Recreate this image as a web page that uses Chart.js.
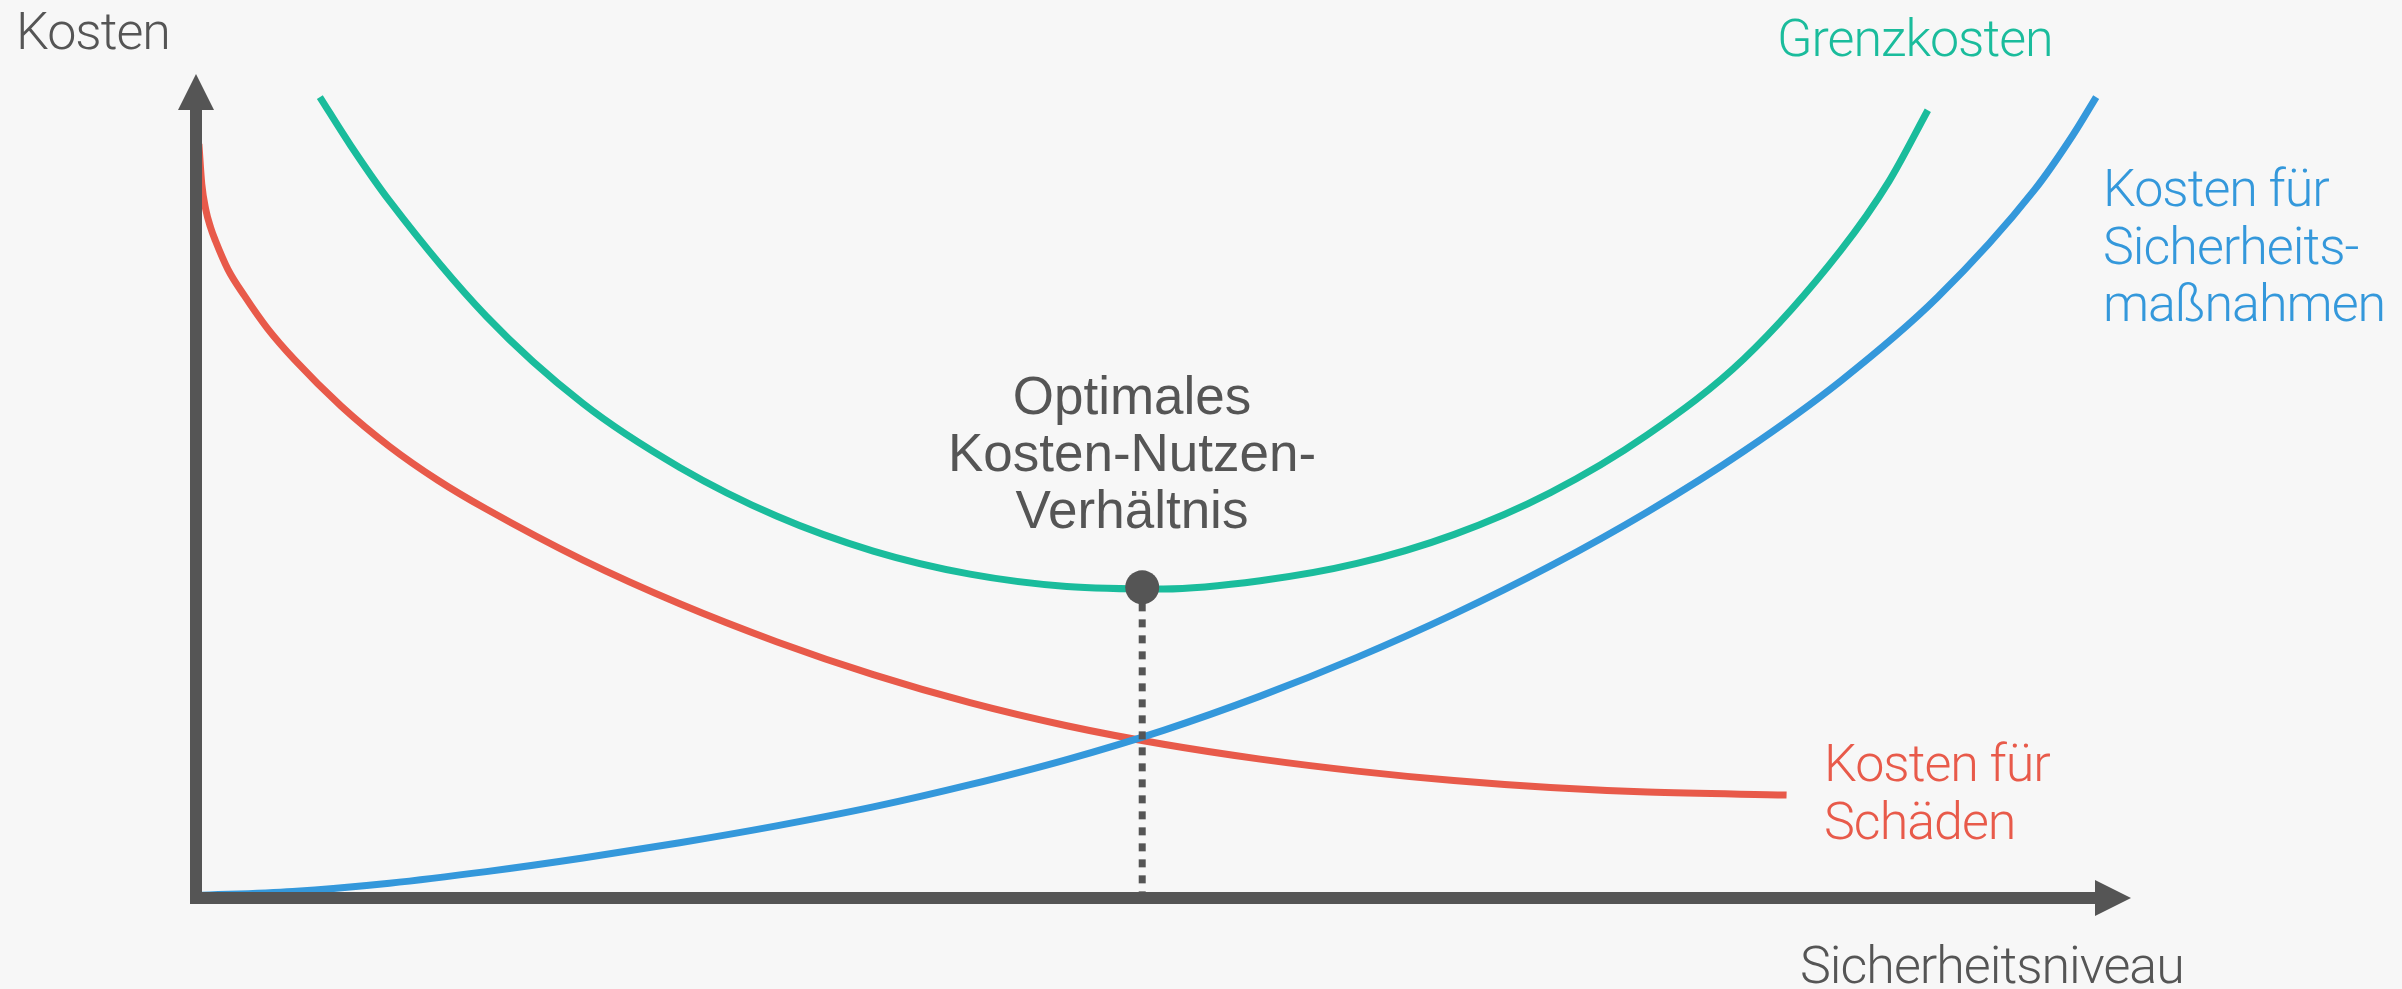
<!DOCTYPE html>
<html>
<head>
<meta charset="utf-8">
<title>Kosten-Nutzen-Verhältnis</title>
<script src="https://cdn.jsdelivr.net/npm/chart.js@4"></script>
<style>
  html, body { margin: 0; padding: 0; background: #f7f7f7; }
  #chart { display: block; }
</style>
</head>
<body>
<canvas id="chart" width="2402" height="989"></canvas>
<script>
// Sicherheitsniveau (x) and Kosten (y), both on a 0..100 scale
const grenzX = [6.4, 8, 10, 15, 20, 25, 30, 35, 40, 45, 50, 55, 60, 65, 70, 75, 80, 85, 87.5, 89.5];
const grenzY = [97.2, 91.3, 84.6, 70.6, 60.0, 52.25, 46.35, 42.1, 39.3, 37.8, 37.5, 38.5, 40.6, 44.1, 49.2, 56.2, 65.45, 78.6, 87.0, 95.6];

const massnahmenX = [0, 5, 10, 15, 20, 25, 30, 35, 40, 45, 50, 55, 60, 65, 70, 75, 80, 85, 90, 95, 97, 98.2];
const massnahmenY = [0.3, 0.8, 1.8, 3.2, 4.85, 6.7, 8.75, 11.05, 13.75, 16.8, 20.35, 24.5, 29.2, 34.45, 40.3, 46.85, 54.25, 62.75, 72.9, 85.9, 92.6, 97.2];

const schaedenX = [0.15, 0.3, 0.5, 0.75, 1, 1.65, 2.5, 3.7, 5.1, 7.5, 10, 12.5, 15, 20, 25, 30, 35, 40, 45, 50, 55, 60, 65, 70, 75, 82.2];
const schaedenY = [91.5, 86.6, 83.6, 81.4, 79.8, 76.3, 73.1, 69.1, 65.3, 59.7, 54.8, 50.7, 47.2, 41.0, 35.7, 31.1, 27.1, 23.7, 20.9, 18.65, 16.85, 15.4, 14.25, 13.4, 12.85, 12.5];

const optimumX = 48.9;
const optimumY = 37.7;

const axisColor = '#555555';
const green = '#1abc9c';
const blue = '#3498db';
const red = '#e85a4a';

function toPoints(xs, ys) {
  return xs.map((x, i) => ({ x: x, y: ys[i] }));
}

// axes with arrow heads and the text labels
const decorations = {
  id: 'decorations',
  afterDatasetsDraw(chart) {
    const ctx = chart.ctx;
    const xs = chart.scales.x;
    const ys = chart.scales.y;
    const x0 = xs.getPixelForValue(0);
    const xEnd = xs.getPixelForValue(100);
    const y0 = ys.getPixelForValue(0);
    const yEnd = ys.getPixelForValue(100);
    const bar = 12;
    const head = 36;
    const half = 18;

    ctx.save();
    ctx.fillStyle = axisColor;
    // y axis
    ctx.fillRect(x0 - bar / 2, yEnd + head - 1, bar, y0 + bar / 2 - (yEnd + head - 1));
    ctx.beginPath();
    ctx.moveTo(x0, yEnd);
    ctx.lineTo(x0 + half, yEnd + head);
    ctx.lineTo(x0 - half, yEnd + head);
    ctx.closePath();
    ctx.fill();
    // x axis
    ctx.fillRect(x0 - bar / 2, y0 - bar / 2, xEnd - head + 1 - (x0 - bar / 2), bar);
    ctx.beginPath();
    ctx.moveTo(xEnd, y0);
    ctx.lineTo(xEnd - head, y0 - half);
    ctx.lineTo(xEnd - head, y0 + half);
    ctx.closePath();
    ctx.fill();
    ctx.restore();
  },
  afterDraw(chart) {
    const ctx = chart.ctx;
    ctx.save();
    ctx.textBaseline = 'alphabetic';

    ctx.font = '300 52px Roboto, "Open Sans", sans-serif';
    ctx.letterSpacing = '-1px';
    ctx.textAlign = 'left';
    ctx.fillStyle = axisColor;
    ctx.fillText('Kosten', 16, 49);
    ctx.fillText('Sicherheitsniveau', 1800, 983);

    ctx.fillStyle = green;
    ctx.fillText('Grenzkosten', 1777, 56);

    ctx.fillStyle = blue;
    ctx.fillText('Kosten für', 2103, 206);
    ctx.fillText('Sicherheits-', 2103, 264);
    ctx.fillText('maßnahmen', 2103, 321);

    ctx.fillStyle = red;
    ctx.fillText('Kosten für', 1824, 781);
    ctx.fillText('Schäden', 1824, 839);

    ctx.font = '400 53px "Liberation Sans", Arial, sans-serif';
    ctx.letterSpacing = '0px';
    ctx.textAlign = 'center';
    ctx.fillStyle = axisColor;
    ctx.fillText('Optimales', 1132, 414);
    ctx.fillText('Kosten-Nutzen-', 1132, 471);
    ctx.fillText('Verhältnis', 1132, 528);
    ctx.restore();
  }
};

const ctx = document.getElementById('chart').getContext('2d');
const chart = new Chart(ctx, {
  type: 'scatter',
  data: {
    datasets: [
      {
        label: 'Optimum',
        data: [{ x: optimumX, y: optimumY }],
        pointRadius: 17,
        pointBackgroundColor: axisColor,
        pointBorderWidth: 0,
        showLine: false,
        order: 0
      },
      {
        label: 'Lot',
        data: [{ x: optimumX, y: optimumY }, { x: optimumX, y: 0 }],
        showLine: true,
        borderColor: axisColor,
        borderWidth: 7,
        borderDash: [8, 8],
        pointRadius: 0,
        order: 1
      },
      {
        label: 'Grenzkosten',
        data: toPoints(grenzX, grenzY),
        showLine: true,
        borderColor: green,
        borderWidth: 7,
        pointRadius: 0,
        cubicInterpolationMode: 'monotone',
        order: 2
      },
      {
        label: 'Kosten für Sicherheitsmaßnahmen',
        data: toPoints(massnahmenX, massnahmenY),
        showLine: true,
        borderColor: blue,
        borderWidth: 7,
        pointRadius: 0,
        cubicInterpolationMode: 'monotone',
        order: 3
      },
      {
        label: 'Kosten für Schäden',
        data: toPoints(schaedenX, schaedenY),
        showLine: true,
        borderColor: red,
        borderWidth: 7,
        pointRadius: 0,
        cubicInterpolationMode: 'monotone',
        order: 4
      }
    ]
  },
  options: {
    responsive: false,
    animation: false,
    devicePixelRatio: 1,
    clip: false,
    layout: {
      padding: { left: 196, right: 271, top: 74, bottom: 91 }
    },
    scales: {
      x: { type: 'linear', min: 0, max: 100, display: false },
      y: { type: 'linear', min: 0, max: 100, display: false }
    },
    plugins: {
      legend: { display: false },
      tooltip: { enabled: false }
    }
  },
  plugins: [decorations]
});
</script>
</body>
</html>
